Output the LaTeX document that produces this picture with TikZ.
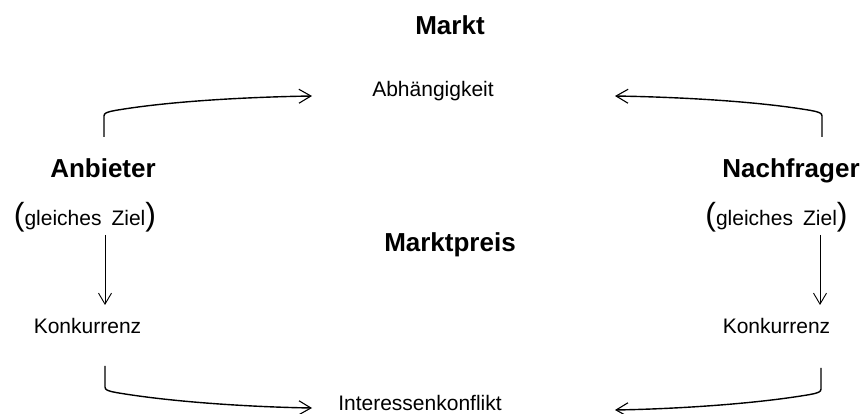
\documentclass[tikz,border=0pt]{standalone}
\usepackage{fontspec}
\setmainfont{Liberation Sans}
\usetikzlibrary{arrows.meta}
\tikzset{
  bigtxt/.style={font=\fontsize{26}{30}\selectfont\bfseries, inner sep=0pt, anchor=base},
  txt/.style={font=\fontsize{21}{25}\selectfont, inner sep=0pt, anchor=base},
  curvarr/.style={line width=1.4pt, -{Straight Barb[length=12pt,width=14pt,line width=1.1pt]}},
  vertarr/.style={line width=0.9pt, -{Straight Barb[length=11pt,width=13pt,line width=0.9pt]}},
}
\newcommand{\gzText}{{\fontsize{32}{32}\selectfont(}gleiches\hspace{10pt}Ziel{\fontsize{32}{32}\selectfont)}}
\begin{document}
\begin{tikzpicture}[x=1pt,y=-1pt]
\useasboundingbox (0,0) rectangle (863,414);
% texts
\node[bigtxt] (markt) at (450,35) {Markt};
\node[txt] (abh) at (433,97) {Abhängigkeit};
\node[bigtxt] (anb) at (103,178) {Anbieter};
\node[txt] (gz1) at (85,226) {\gzText};
\node[bigtxt] (nach) at (791,178) {Nachfrager};
\node[txt] (gz2) at (776.5,226) {\gzText};
\node[bigtxt] (preis) at (450,252) {Marktpreis};
\node[txt] (kon1) at (87.5,334) {Konkurrenz};
\node[txt] (kon2) at (776.5,334) {Konkurrenz};
\node[txt] (ik) at (420,410) {Interessenkonflikt};
% connector end points
\coordinate (anbTop) at (104,137);
\coordinate (abhL) at (312,96);
\coordinate (nachTop) at (822,137);
\coordinate (abhR) at (615,96);
\coordinate (kon1Bot) at (105,366);
\coordinate (ikL) at (312,408);
\coordinate (kon2Bot) at (821,368);
\coordinate (ikR) at (615,410);
\coordinate (gz1Bot) at (105,235);
\coordinate (kon1Top) at (105,305);
\coordinate (gz2Bot) at (820,235);
\coordinate (kon2Top) at (820,305);
% curved connectors
\draw[curvarr] (anbTop) -- (104,116) .. controls (104,113) and (107,112) .. (115,110.5)
  .. controls (170,101) and (250,97) .. (abhL);
\draw[curvarr] (nachTop) -- (822,116) .. controls (822,113) and (819,112) .. (811,110.5)
  .. controls (756,101) and (676,97) .. (abhR);
\draw[curvarr] (kon1Bot) -- (105,387) .. controls (105,390) and (108,391) .. (116,392.5)
  .. controls (171,402) and (251,407) .. (ikL);
\draw[curvarr] (kon2Bot) -- (821,389) .. controls (821,392) and (818,393) .. (810,394.5)
  .. controls (755,404) and (675,409) .. (ikR);
% vertical connectors
\draw[vertarr] (gz1Bot) -- (kon1Top);
\draw[vertarr] (gz2Bot) -- (kon2Top);
\end{tikzpicture}
\end{document}
